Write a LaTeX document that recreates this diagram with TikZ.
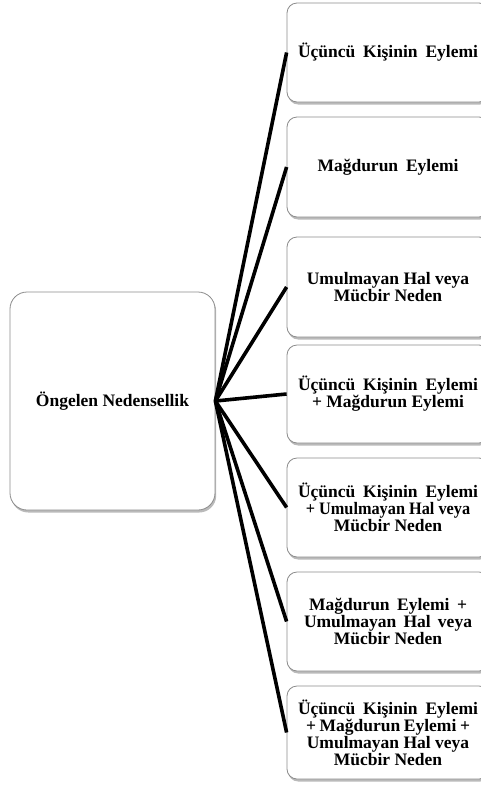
\documentclass[tikz,border=0pt]{standalone}
\usepackage{fontspec}
\usepackage{graphicx}
\setmainfont{Liberation Serif}
\usetikzlibrary{shadows}
\newcommand{\fw}[2]{\makebox[#1pt][s]{#2}}
\newcommand{\narrow}[1]{\scalebox{0.93}[1]{#1}}
\tikzset{
  causebox/.style={draw=black!45, line width=0.8pt, fill=white, rounded corners=10pt,
    minimum width=202pt, inner sep=0pt, align=center,
    font=\bfseries\fontsize{17.5}{15.8}\selectfont,
    drop shadow={shadow xshift=1.2pt, shadow yshift=-2.5pt, opacity=0.45, fill=black!60}},
  rootbox/.style={causebox, rounded corners=17pt, minimum width=205pt, minimum height=218pt},
  link/.style={line width=3.6pt, black}
}
\begin{document}
\begin{tikzpicture}[x=1pt,y=-1pt]
  \path[use as bounding box, clip] (0,0) rectangle (481,785);
  \fill[white] (0,0) rectangle (481,785);

  % root
  \node[rootbox] (root) at (112.5,401) {Öngelen Nedensellik};

  % outcomes
  \node[causebox, minimum height=99pt]  (b1) at (388,52.5)  {\fw{180}{Üçüncü Kişinin Eylemi}};
  \node[causebox, minimum height=100pt] (b2) at (388,167)   {\fw{141}{Mağdurun Eylemi}};
  \node[causebox, minimum height=100pt] (b3) at (388,287)   {Umulmayan Hal veya\\Mücbir Neden};
  \node[causebox, minimum height=98pt]  (b4) at (388,394)   {\fw{180}{Üçüncü Kişinin Eylemi}\\\fw{152}{+ Mağdurun Eylemi}};
  \node[causebox, minimum height=99pt]  (b5) at (388,507.5) {\fw{180}{Üçüncü Kişinin Eylemi}\\\narrow{+ Umulmayan Hal veya}\\Mücbir Neden};
  \node[causebox, minimum height=99pt]  (b6) at (388,621.5) {\fw{158}{Mağdurun Eylemi +}\\\fw{168}{Umulmayan Hal veya}\\Mücbir Neden};
  \node[causebox, minimum height=93pt]  (b7) at (388,732.5) {\fw{180}{Üçüncü Kişinin Eylemi}\\\fw{164}{+ Mağdurun Eylemi +}\\Umulmayan Hal veya\\Mücbir Neden};

  % connectors
  \foreach \b in {b1,b2,b3,b4,b5,b6,b7}
    \draw[link] (root.east) -- (\b.west);
\end{tikzpicture}
\end{document}
